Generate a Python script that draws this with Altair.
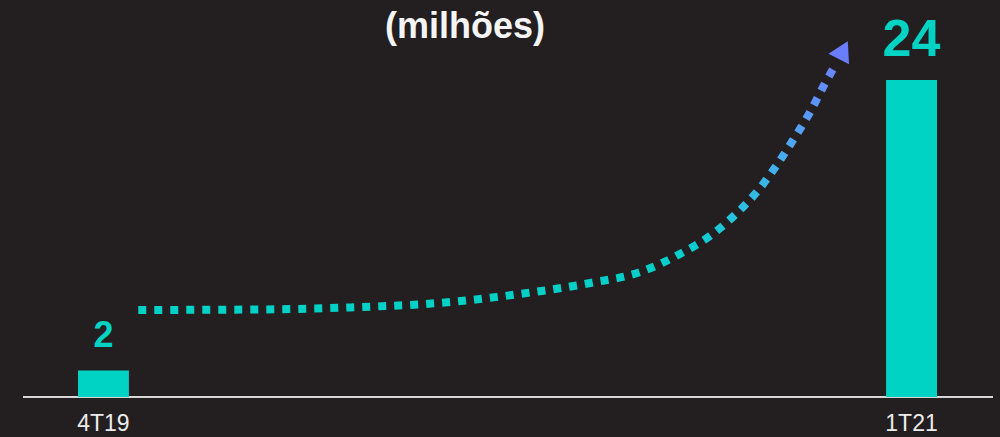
import altair as alt
import pandas as pd

# Bars: quarter and value (millions)
periodos = ["4T19", "1T21"]
valores = [2, 24]

# Dotted growth curve: position between the two bar centres (0 → 4T19, 1 → 1T21)
# and height in the same units as the bars
curva_pos = [0.043, 0.181, 0.305, 0.429, 0.515, 0.602, 0.664, 0.713, 0.750,
             0.781, 0.808, 0.832, 0.853, 0.874, 0.892, 0.906]
curva_val = [6.59, 6.62, 6.78, 7.19, 7.80, 8.63, 9.46, 10.83, 12.19,
             13.78, 15.52, 17.49, 19.46, 21.58, 23.70, 25.21]

# Arrow head at the end of the curve
seta_pos = [0.915]
seta_val = [26.27]

titulo = "(milhões)"

BG = "#231f20"
TEAL = "#00d2c4"
FONT = "Liberation Sans"

barras_df = pd.DataFrame({"periodo": periodos, "valor": valores})
curva_df = pd.DataFrame({"pos": curva_pos, "val": curva_val, "ordem": list(range(len(curva_pos)))})
seta_df = pd.DataFrame({"pos": seta_pos, "val": seta_val})

y_scale = alt.Scale(domain=[0, 24], range=[397, 80], nice=False, zero=True)
x_band = alt.Scale(type="band", domain=periodos, range=[78, 937], paddingInner=0.937, paddingOuter=0)
x_curve = alt.Scale(domain=[0, 1], range=[103.5, 912])

base = alt.Chart(barras_df)

barras = base.mark_bar(color=TEAL).encode(
    x=alt.X("periodo:N", scale=x_band, axis=None),
    y=alt.Y("valor:Q", scale=y_scale, axis=None),
)

rotulos = base.mark_text(
    color=TEAL, font=FONT, fontWeight="bold", baseline="alphabetic", align="center", dy=-24
).encode(
    x=alt.X("periodo:N", scale=x_band, axis=None),
    y=alt.Y("valor:Q", scale=y_scale, axis=None),
    text=alt.Text("valor:Q"),
    size=alt.condition(alt.datum.periodo == "1T21", alt.value(52), alt.value(36)),
)

eixo_rotulos = base.mark_text(
    color="#ececec", font=FONT, fontSize=23, baseline="alphabetic", align="center"
).encode(
    x=alt.X("periodo:N", scale=x_band, axis=None),
    y=alt.value(431),
    text="periodo:N",
)

linha_base = alt.Chart(pd.DataFrame({"v": [0]})).mark_rule(
    color="#d6d6d6", strokeWidth=2
).encode(
    x=alt.value(23), x2=alt.value(993),
    y=alt.Y("v:Q", scale=y_scale, axis=None),
)

gradiente = alt.LinearGradient(
    gradient="linear",
    stops=[
        alt.GradientStop(color="#00d1c6", offset=0),
        alt.GradientStop(color="#04cfca", offset=0.22),
        alt.GradientStop(color="#27c3df", offset=0.38),
        alt.GradientStop(color="#4fa6f2", offset=0.68),
        alt.GradientStop(color="#6a84ff", offset=1),
    ],
    x1=0, x2=0, y1=1, y2=0,
)

curva = alt.Chart(curva_df).mark_line(
    stroke=gradiente, strokeWidth=8, strokeDash=[8, 8], strokeCap="butt",
    interpolate="monotone",
).encode(
    x=alt.X("pos:Q", scale=x_curve, axis=None),
    y=alt.Y("val:Q", scale=y_scale, axis=None),
    order="ordem:Q",
)

seta = alt.Chart(seta_df).mark_point(
    shape="triangle-up", filled=True, color="#6b7dff", opacity=1, size=530, angle=27
).encode(
    x=alt.X("pos:Q", scale=x_curve, axis=None),
    y=alt.Y("val:Q", scale=y_scale, axis=None),
)

titulo_txt = alt.Chart(pd.DataFrame({"t": [titulo]})).mark_text(
    color="#f4f4f4", font=FONT, fontSize=36, fontWeight="bold",
    baseline="alphabetic", align="center",
).encode(
    x=alt.value(465), y=alt.value(38), text="t:N",
)

chart = alt.layer(
    linha_base, barras, rotulos, eixo_rotulos, curva, seta, titulo_txt
).resolve_scale(
    x="independent"
).properties(
    width=1000, height=437, padding=0, background=BG,
    autosize=alt.AutoSizeParams(type="none"),
).configure_view(
    stroke=None
)

chart.save("out.html", embed_options={"renderer": "svg", "actions": False})
